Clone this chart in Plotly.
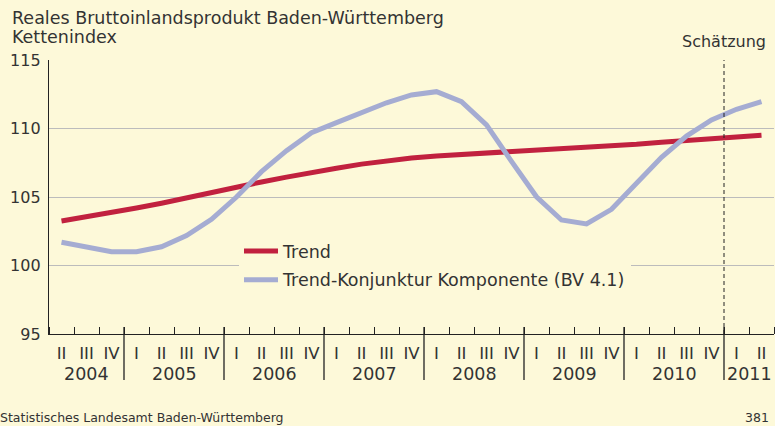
import plotly.graph_objects as go

# ---- data ----
years = [2004, 2005, 2006, 2007, 2008, 2009, 2010, 2011]
roman = ["I", "II", "III", "IV"]
first_period = (2004, 2)
last_period = (2011, 2)
forecast_from = (2011, 1)

trend = [103.25, 103.55, 103.85, 104.2, 104.55, 104.95, 105.3, 105.7, 106.1,
         106.45, 106.8, 107.1, 107.4, 107.65, 107.85, 108.0, 108.1, 108.2,
         108.3, 108.4, 108.5, 108.6, 108.7, 108.85, 109.0, 109.12, 109.25,
         109.38, 109.5]
konjunktur = [101.7, 101.35, 101.0, 101.0, 101.37, 102.18, 103.37, 105.0, 106.85,
              108.38, 109.7, 110.43, 111.18, 111.88, 112.45, 112.69, 111.96,
              110.26, 107.6, 105.02, 103.32, 103.03, 104.1, 106.0, 107.9,
              109.45, 110.62, 111.4, 111.96]
y_ticks = [95, 100, 105, 110, 115]

series_names = ["Trend", "Trend-Konjunktur Komponente (BV 4.1)"]
title_lines = ["Reales Bruttoinlandsprodukt Baden-Württemberg", "Kettenindex"]
forecast_label = "Schätzung"
source_label = "Statistisches Landesamt Baden-Württemberg"
page_label = "381"

# ---- derived ----
periods = [(y, q) for y in years for q in range(1, 5) if first_period <= (y, q) <= last_period]
xs = list(range(len(periods)))
qtext = [roman[q - 1] for _, q in periods]

BG = "#fdf9d9"
TXT = "#333333"
AX = "#222222"
FONT = "DejaVu Sans"
RED = "#c1213f"
BLUE = "#a5acd2"

fig = go.Figure()
fig.add_trace(go.Scatter(x=xs, y=trend, mode="lines", name=series_names[0],
                         legendgroup="a", line=dict(color=RED, width=5)))
fig.add_trace(go.Scatter(x=xs, y=konjunktur, mode="lines", name=series_names[1],
                         legendgroup="b", line=dict(color=BLUE, width=5)))

H = 274.0  # plot height in px, for paper conversions
W = 725.0
shapes = []
annotations = []
# year dividers & labels
for i in range(1, len(periods)):
    if periods[i][0] != periods[i - 1][0]:
        shapes.append(dict(type="line", xref="x", yref="paper", x0=i - 0.5, x1=i - 0.5,
                           y0=-46 / H, y1=7 / H, line=dict(color=AX, width=1.3)))
for yr in years:
    idx = [i for i, p in enumerate(periods) if p[0] == yr]
    annotations.append(dict(xref="x", yref="paper", x=sum(idx) / len(idx), y=-40 / H,
                            text=str(yr), showarrow=False, yanchor="middle",
                            font=dict(family=FONT, size=17.5, color=TXT)))
# forecast marker
fx = periods.index(forecast_from) - 0.5
shapes.append(dict(type="line", xref="x", yref="paper", x0=fx, x1=fx, y0=0, y1=1,
                   line=dict(color=AX, width=1, dash="4px,3px")))
annotations.append(dict(xref="paper", yref="paper", x=(768 - 49) / W, y=(334 - 42) / H,
                        text=forecast_label, showarrow=False, xanchor="right", yanchor="middle",
                        font=dict(family=FONT, size=16, color=TXT)))
# titles
annotations.append(dict(xref="paper", yref="paper", x=(10 - 49) / W, y=(334 - 18) / H,
                        text=title_lines[0], showarrow=False, xanchor="left", yanchor="middle",
                        font=dict(family=FONT, size=17.5, color=TXT)))
annotations.append(dict(xref="paper", yref="paper", x=(10 - 49) / W, y=(334 - 37) / H,
                        text=title_lines[1], showarrow=False, xanchor="left", yanchor="middle",
                        font=dict(family=FONT, size=17.5, color=TXT)))
# footer
annotations.append(dict(xref="paper", yref="paper", x=(-2 - 49) / W, y=(334 - 417) / H,
                        text=source_label, showarrow=False, xanchor="left", yanchor="middle",
                        font=dict(family=FONT, size=12.5, color=TXT)))
annotations.append(dict(xref="paper", yref="paper", x=(771 - 49) / W, y=(334 - 417) / H,
                        text=page_label, showarrow=False, xanchor="right", yanchor="middle",
                        font=dict(family=FONT, size=12.5, color=TXT)))

fig.update_layout(
    width=775, height=426,
    margin=dict(l=49, r=1, t=60, b=92),
    paper_bgcolor=BG, plot_bgcolor=BG,
    font=dict(family=FONT, size=16, color=TXT),
    showlegend=True,
    legend=dict(x=(239 - 49) / W, y=(334 - 233) / H, xanchor="left", yanchor="top",
                bgcolor=BG, borderwidth=0, tracegroupgap=3, traceorder="grouped",
                itemwidth=34,
                font=dict(family=FONT, size=17.5, color=TXT)),
    xaxis=dict(range=[-0.5, len(xs) - 0.5], tickvals=xs, ticktext=qtext, ticks="",
               showline=True, linecolor=AX, linewidth=1.3, showgrid=False, zeroline=False,
               ticklabelstandoff=4,
               minor=dict(tick0=-0.5, dtick=1, ticks="inside", ticklen=7,
                          tickcolor=AX, tickwidth=1.3, showgrid=False),
               tickfont=dict(family=FONT, size=16.5, color=TXT)),
    yaxis=dict(range=[95, 115], tickvals=y_ticks, ticks="", showline=True, linecolor=AX,
               linewidth=1.3, showgrid=True, gridcolor="#bcbcbc", gridwidth=1, zeroline=False,
               ticklabelstandoff=4,
               tickfont=dict(family=FONT, size=16, color=TXT)),
    shapes=shapes, annotations=annotations,
)

fig.write_html("out.html", config={"displayModeBar": False},
               post_script="document.body.style.margin='0';document.body.style.overflow='hidden';")
